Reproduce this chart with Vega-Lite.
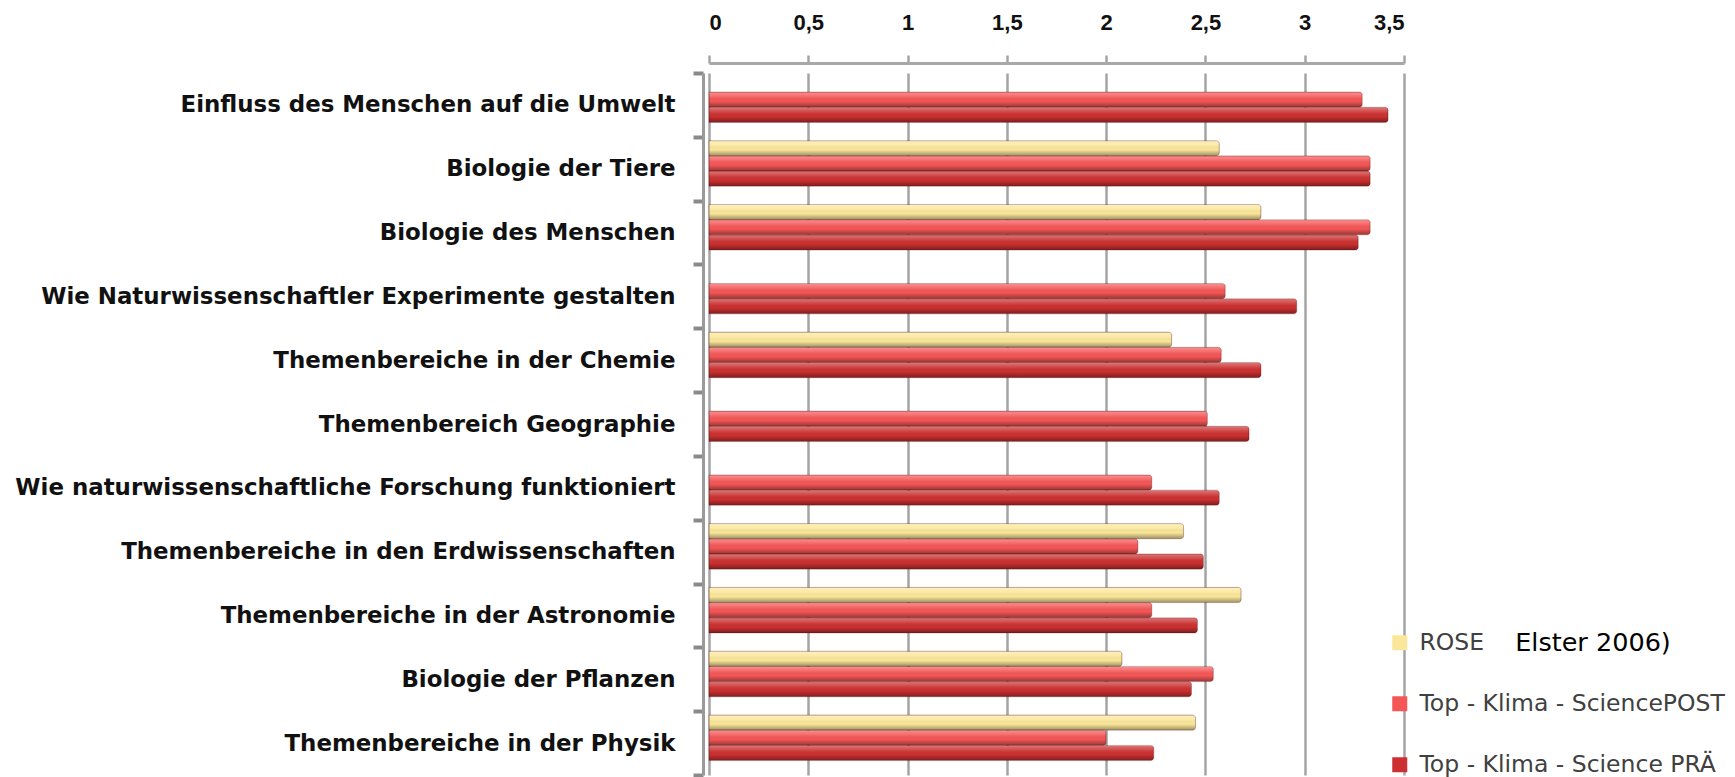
{
  "$schema": "https://vega.github.io/schema/vega-lite/v6.json",
  "autosize": {"type": "none"},
  "width": 695,
  "height": 702,
  "padding": {"left": 709, "top": 73, "right": 331, "bottom": 2},
  "background": "white",
  "config": {"view": {"stroke": null}},
  "datasets": {
    "bars": [
      {"thema": "Einfluss des Menschen auf die Umwelt", "serie": "Top - Klima - SciencePOST", "wert": 3.29},
      {"thema": "Einfluss des Menschen auf die Umwelt", "serie": "Top - Klima - Science PRÄ", "wert": 3.42},
      {"thema": "Biologie der Tiere", "serie": "ROSE", "wert": 2.57},
      {"thema": "Biologie der Tiere", "serie": "Top - Klima - SciencePOST", "wert": 3.33},
      {"thema": "Biologie der Tiere", "serie": "Top - Klima - Science PRÄ", "wert": 3.33},
      {"thema": "Biologie des Menschen", "serie": "ROSE", "wert": 2.78},
      {"thema": "Biologie des Menschen", "serie": "Top - Klima - SciencePOST", "wert": 3.33},
      {"thema": "Biologie des Menschen", "serie": "Top - Klima - Science PRÄ", "wert": 3.27},
      {"thema": "Wie Naturwissenschaftler Experimente gestalten", "serie": "Top - Klima - SciencePOST", "wert": 2.6},
      {"thema": "Wie Naturwissenschaftler Experimente gestalten", "serie": "Top - Klima - Science PRÄ", "wert": 2.96},
      {"thema": "Themenbereiche in der Chemie", "serie": "ROSE", "wert": 2.33},
      {"thema": "Themenbereiche in der Chemie", "serie": "Top - Klima - SciencePOST", "wert": 2.58},
      {"thema": "Themenbereiche in der Chemie", "serie": "Top - Klima - Science PRÄ", "wert": 2.78},
      {"thema": "Themenbereich Geographie", "serie": "Top - Klima - SciencePOST", "wert": 2.51},
      {"thema": "Themenbereich Geographie", "serie": "Top - Klima - Science PRÄ", "wert": 2.72},
      {"thema": "Wie naturwissenschaftliche Forschung funktioniert", "serie": "Top - Klima - SciencePOST", "wert": 2.23},
      {"thema": "Wie naturwissenschaftliche Forschung funktioniert", "serie": "Top - Klima - Science PRÄ", "wert": 2.57},
      {"thema": "Themenbereiche in den Erdwissenschaften", "serie": "ROSE", "wert": 2.39},
      {"thema": "Themenbereiche in den Erdwissenschaften", "serie": "Top - Klima - SciencePOST", "wert": 2.16},
      {"thema": "Themenbereiche in den Erdwissenschaften", "serie": "Top - Klima - Science PRÄ", "wert": 2.49},
      {"thema": "Themenbereiche in der Astronomie", "serie": "ROSE", "wert": 2.68},
      {"thema": "Themenbereiche in der Astronomie", "serie": "Top - Klima - SciencePOST", "wert": 2.23},
      {"thema": "Themenbereiche in der Astronomie", "serie": "Top - Klima - Science PRÄ", "wert": 2.46},
      {"thema": "Biologie der Pflanzen", "serie": "ROSE", "wert": 2.08},
      {"thema": "Biologie der Pflanzen", "serie": "Top - Klima - SciencePOST", "wert": 2.54},
      {"thema": "Biologie der Pflanzen", "serie": "Top - Klima - Science PRÄ", "wert": 2.43},
      {"thema": "Themenbereiche in der Physik", "serie": "ROSE", "wert": 2.45},
      {"thema": "Themenbereiche in der Physik", "serie": "Top - Klima - SciencePOST", "wert": 2.0},
      {"thema": "Themenbereiche in der Physik", "serie": "Top - Klima - Science PRÄ", "wert": 2.24}
    ],
    "notiz": [
      {"thema": "Themenbereiche in der Astronomie", "wert": 4.06, "text": "Elster 2006)"}
    ]
  },
  "encoding": {
    "y": {
      "field": "thema",
      "type": "nominal",
      "sort": null,
      "scale": {
        "domain": [
          "Einfluss des Menschen auf die Umwelt",
          "Biologie der Tiere",
          "Biologie des Menschen",
          "Wie Naturwissenschaftler Experimente gestalten",
          "Themenbereiche in der Chemie",
          "Themenbereich Geographie",
          "Wie naturwissenschaftliche Forschung funktioniert",
          "Themenbereiche in den Erdwissenschaften",
          "Themenbereiche in der Astronomie",
          "Biologie der Pflanzen",
          "Themenbereiche in der Physik"
        ],
        "paddingInner": 0,
        "paddingOuter": 0
      },
      "axis": {
        "title": null,
        "orient": "left",
        "offset": 6,
        "domainColor": "#9a9a9a",
        "domainWidth": 3,
        "tickBand": "extent",
        "tickColor": "#8a8a8a",
        "tickWidth": 4,
        "tickSize": 10,
        "labelPadding": 18,
        "labelFont": "DejaVu Sans",
        "labelFontWeight": "bold",
        "labelFontSize": 22.9,
        "labelColor": "#111111",
        "labelLimit": 900
      }
    },
    "x": {
      "field": "wert",
      "type": "quantitative",
      "scale": {"domain": [0, 3.5], "nice": false, "zero": true},
      "axis": {
        "title": null,
        "orient": "top",
        "values": [0, 0.5, 1, 1.5, 2, 2.5, 3, 3.5],
        "labelExpr": "replace(toString(datum.value), '.', ',')",
        "offset": 10,
        "grid": true,
        "gridColor": "#a4a4a4",
        "gridWidth": 2.5,
        "domainColor": "#a8a8a8",
        "domainWidth": 3,
        "tickColor": "#a4a4a4",
        "tickWidth": 2.5,
        "tickSize": 8,
        "labelPadding": 21,
        "labelFont": "Liberation Sans",
        "labelFontWeight": "bold",
        "labelFontSize": 22,
        "labelColor": "#111111"
      }
    }
  },
  "layer": [
    {
      "data": {"name": "bars"},
      "mark": {"type": "bar", "cornerRadiusEnd": 3},
      "encoding": {
        "yOffset": {
          "field": "serie",
          "type": "nominal",
          "scale": {
            "domain": ["ROSE", "Top - Klima - SciencePOST", "Top - Klima - Science PRÄ"],
            "paddingInner": 0,
            "paddingOuter": 0.6,
            "align": 0.21
          }
        },
        "color": {
          "field": "serie",
          "type": "nominal",
          "scale": {
            "domain": ["ROSE", "Top - Klima - SciencePOST", "Top - Klima - Science PRÄ"],
            "range": ["#FBE79A", "#F55656", "#CC3030"]
          },
          "legend": {
            "title": null,
            "orient": "none",
            "legendX": 679,
            "legendY": 558,
            "padding": 0,
            "symbolType": "square",
            "symbolSize": 225,
            "symbolStrokeWidth": 0,
            "rowPadding": 36,
            "labelOffset": 8,
            "labelFont": "DejaVu Sans",
            "labelFontSize": 23.5,
            "labelColor": "#404040",
            "labelLimit": 400
          }
        }
      }
    },
    {
      "data": {"name": "bars"},
      "mark": {
        "type": "bar",
        "cornerRadiusEnd": 3,
        "stroke": "rgba(90,20,20,0.35)",
        "strokeWidth": 0.8,
        "color": {
          "gradient": "linear",
          "x1": 0, "y1": 0, "x2": 0, "y2": 1,
          "stops": [
            {"offset": 0, "color": "rgba(255,255,255,0.35)"},
            {"offset": 0.3, "color": "rgba(255,255,255,0.12)"},
            {"offset": 0.6, "color": "rgba(0,0,0,0.0)"},
            {"offset": 1, "color": "rgba(0,0,0,0.38)"}
          ]
        }
      },
      "encoding": {
        "yOffset": {"field": "serie", "type": "nominal"}
      }
    },
    {
      "data": {"name": "notiz"},
      "mark": {
        "type": "text",
        "align": "left",
        "baseline": "middle",
        "dy": 28,
        "font": "DejaVu Sans",
        "fontSize": 25.5,
        "color": "#000000"
      },
      "encoding": {
        "text": {"field": "text"}
      }
    }
  ]
}
